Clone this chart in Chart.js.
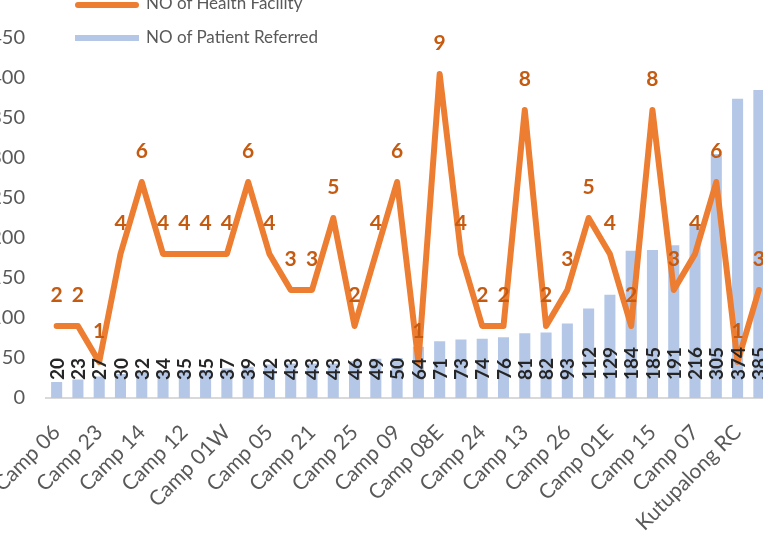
<!DOCTYPE html>
<html>
<head>
<meta charset="utf-8">
<script src="https://cdn.jsdelivr.net/npm/chart.js@4.4.1/dist/chart.umd.min.js"></script>
<style>
  html, body { margin: 0; padding: 0; background: #fff; overflow: hidden; width: 763px; height: 540px; }
  #wrap { position: relative; width: 763px; height: 540px; overflow: hidden; }
  #chart { position: absolute; left: 0; top: 0; }
  .sw { position: absolute; left: 75px; width: 64px; }
  .lt { position: absolute; left: 146px; font: 17px Lato, sans-serif; line-height: 20px; color: #595959; white-space: nowrap; }
</style>
</head>
<body>
<div id="wrap">
  <canvas id="chart" width="800" height="540"></canvas>
  <div class="sw" style="top:2px;height:6px;border-radius:3px;background:#ED7D31"></div>
  <div class="lt" style="top:-7px">NO of Health Facility</div>
  <div class="sw" style="top:35px;height:6px;background:#B4C7E7"></div>
  <div class="lt" style="top:27px">NO of Patient Referred</div>
</div>
<script>
// camps, sorted by patients referred (odd names are hidden by the axis in the source)
var camps = ["Camp 06", "Camp 02W", "Camp 23", "Camp 02E", "Camp 14", "Camp 03", "Camp 12", "Camp 04",
  "Camp 01W", "Camp 04X", "Camp 05", "Camp 08W", "Camp 21", "Camp 10", "Camp 25", "Camp 11",
  "Camp 09", "Camp 16", "Camp 08E", "Camp 17", "Camp 24", "Camp 18", "Camp 13", "Camp 19",
  "Camp 26", "Camp 20", "Camp 01E", "Camp 20X", "Camp 15", "Camp 22", "Camp 07", "Camp 27",
  "Kutupalong RC", "Nayapara RC"];
var facilities = [2, 2, 1, 4, 6, 4, 4, 4, 4, 6, 4, 3, 3, 5, 2, 4, 6, 1, 9, 4, 2, 2, 8, 2, 3, 5, 4, 2, 8, 3, 4, 6, 1, 3];
var referred = [20, 23, 27, 30, 32, 34, 35, 35, 37, 39, 42, 43, 43, 43, 46, 49, 50, 64, 71, 73, 74, 76, 81, 82,
  93, 112, 129, 184, 185, 191, 216, 305, 374, 385];

var leftTicks = [0, 450, 50]; // min, max, step
var rightMax = 10;

var valueLabels = {
  id: 'valueLabels',
  afterDatasetsDraw: function(chart) {
    var ctx = chart.ctx;
    var base = chart.scales.y.getPixelForValue(0);
    // bar values, vertical at the base
    var barMeta = chart.getDatasetMeta(1);
    ctx.save();
    ctx.fillStyle = '#262626';
    ctx.font = 'bold 19px Lato, sans-serif';
    ctx.textAlign = 'left';
    ctx.textBaseline = 'middle';
    barMeta.data.forEach(function(bar, i) {
      ctx.save();
      ctx.translate(bar.x, base - 18);
      ctx.rotate(-Math.PI / 2);
      ctx.fillText(String(referred[i]), 0, 1);
      ctx.restore();
    });
    ctx.restore();
    // facility counts above the line
    var lineMeta = chart.getDatasetMeta(0);
    ctx.save();
    ctx.fillStyle = '#C55A11';
    ctx.font = 'bold 21px Lato, sans-serif';
    ctx.textAlign = 'center';
    ctx.textBaseline = 'middle';
    lineMeta.data.forEach(function(pt, i) {
      ctx.fillText(String(facilities[i]), pt.x, pt.y - 31);
    });
    ctx.restore();
  }
};

new Chart(document.getElementById('chart'), {
  type: 'bar',
  data: {
    labels: camps,
    datasets: [{
      type: 'line',
      label: 'NO of Health Facility',
      data: facilities,
      yAxisID: 'y1',
      borderColor: '#ED7D31',
      borderWidth: 6,
      borderCapStyle: 'round',
      borderJoinStyle: 'round',
      pointRadius: 0,
      tension: 0,
      order: 0
    }, {
      type: 'bar',
      label: 'NO of Patient Referred',
      data: referred,
      yAxisID: 'y',
      backgroundColor: '#B4C7E7',
      barPercentage: 0.52,
      categoryPercentage: 1,
      order: 1
    }]
  },
  options: {
    responsive: false,
    animation: false,
    layout: { padding: { top: 38, right: 30.5, left: 0, bottom: 0 } },
    plugins: { legend: { display: false }, tooltip: { enabled: false } },
    scales: {
      x: {
        grid: { display: false, drawTicks: false },
        border: { display: true, color: '#D9D9D9', width: 2 },
        ticks: {
          autoSkip: false,
          maxRotation: 45,
          minRotation: 45,
          padding: 22,
          color: '#595959',
          font: { family: 'Lato', size: 21 },
          callback: function(v, i) { return i % 2 === 0 ? camps[i] : ''; }
        },
        afterFit: function(scale) {
          scale.height = 142;
          scale.paddingLeft = 0;
          scale.paddingRight = 0;
        }
      },
      y: {
        min: leftTicks[0],
        max: leftTicks[1],
        grid: { display: false, drawTicks: false },
        border: { display: false },
        ticks: {
          stepSize: leftTicks[2],
          padding: 21,
          color: '#595959',
          font: { family: 'Lato', size: 20 }
        },
        afterFit: function(scale) { scale.width = 46; }
      },
      y1: {
        display: false,
        position: 'right',
        min: 0,
        max: rightMax
      }
    }
  },
  plugins: [valueLabels]
});
</script>
</body>
</html>
